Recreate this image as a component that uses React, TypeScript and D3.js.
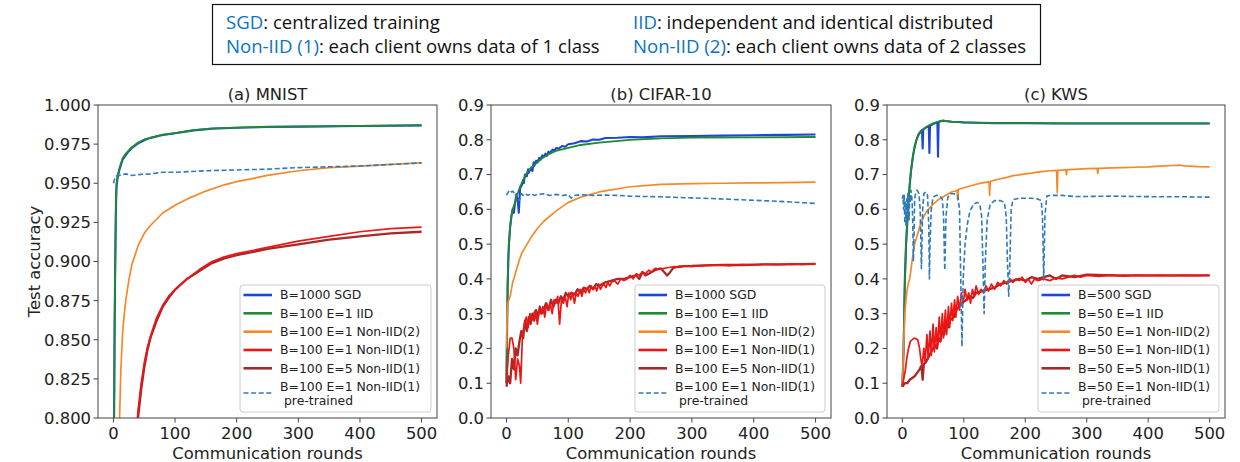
import React from "react";
import * as d3 from "d3";

type Pt = [number, number];

// ---- (a) MNIST: [round, test accuracy]
const mnistSgd: Pt[] = [[0,0.70],[1,0.79],[2,0.86],[3,0.90],[4,0.932],[5,0.948],[7,0.954],[10,0.959],[15,0.965],[20,0.968],[25,0.9705],[30,0.9725],[40,0.9755],[50,0.9775],[60,0.979],[80,0.9808],[100,0.982],[130,0.9838],[160,0.9848],[200,0.9855],[250,0.986],[300,0.9862],[400,0.9866],[500,0.987]];
const mnistIid: Pt[] = [[0,0.70],[1,0.80],[2,0.86],[3,0.90],[4,0.935],[5,0.950],[7,0.955],[10,0.960],[15,0.966],[20,0.969],[25,0.971],[30,0.973],[40,0.976],[50,0.978],[60,0.979],[80,0.981],[100,0.982],[130,0.984],[160,0.985],[200,0.9855],[250,0.986],[300,0.9862],[400,0.9866],[500,0.987]];
const mnistNon2: Pt[] = [[8,0.78],[10,0.80],[12,0.83],[15,0.855],[18,0.868],[20,0.875],[25,0.888],[30,0.898],[40,0.910],[50,0.918],[60,0.923],[70,0.927],[80,0.931],[100,0.936],[120,0.940],[150,0.945],[180,0.949],[200,0.951],[250,0.955],[300,0.958],[350,0.960],[400,0.961],[450,0.962],[500,0.963]];
const mnistNon1: Pt[] = [[38,0.795],[40,0.805],[45,0.822],[50,0.835],[55,0.845],[60,0.852],[70,0.864],[80,0.872],[90,0.878],[100,0.882],[120,0.889],[140,0.895],[160,0.900],[180,0.903],[200,0.905],[250,0.909],[300,0.913],[350,0.916],[400,0.919],[450,0.921],[500,0.922]];
const mnistNon1E5: Pt[] = [[38,0.795],[40,0.80],[45,0.818],[50,0.832],[55,0.843],[60,0.851],[70,0.862],[80,0.871],[90,0.877],[100,0.882],[120,0.889],[140,0.894],[160,0.899],[180,0.902],[200,0.904],[250,0.908],[300,0.911],[350,0.914],[400,0.916],[450,0.918],[500,0.919]];
const mnistPre: Pt[] = [[0,0.950],[3,0.954],[6,0.955],[10,0.955],[20,0.956],[30,0.955],[40,0.9555],[60,0.956],[80,0.957],[100,0.957],[150,0.958],[200,0.9585],[250,0.959],[300,0.960],[350,0.9605],[400,0.961],[450,0.962],[500,0.963]];

// ---- (b) CIFAR-10
const cifarSgd: Pt[] = [[0,0.10],[1,0.25],[2,0.38],[3,0.45],[4,0.50],[6,0.55],[8,0.58],[10,0.60],[12,0.59],[14,0.62],[16,0.64],[18,0.63],[20,0.59],[22,0.66],[25,0.67],[27,0.685],[28,0.675],[30,0.70],[33,0.695],[35,0.715],[36,0.705],[40,0.72],[42,0.71],[44,0.735],[45,0.725],[48,0.74],[50,0.735],[53,0.748],[55,0.742],[58,0.755],[60,0.75],[63,0.76],[65,0.753],[68,0.766],[70,0.762],[75,0.772],[78,0.768],[80,0.776],[85,0.775],[90,0.782],[95,0.78],[100,0.787],[110,0.79],[120,0.796],[130,0.795],[140,0.801],[150,0.80],[160,0.805],[180,0.806],[200,0.808],[220,0.807],[250,0.81],[300,0.811],[350,0.812],[400,0.813],[450,0.814],[500,0.815]];
const cifarIid: Pt[] = [[0,0.10],[1,0.28],[2,0.40],[3,0.46],[4,0.50],[6,0.55],[8,0.58],[10,0.60],[14,0.62],[18,0.645],[22,0.665],[26,0.68],[30,0.695],[35,0.71],[40,0.72],[50,0.735],[60,0.75],[70,0.76],[80,0.768],[100,0.777],[120,0.785],[150,0.792],[200,0.80],[250,0.804],[300,0.806],[400,0.807],[500,0.808]];
const cifarNon2: Pt[] = [[0,0.20],[1,0.30],[2,0.33],[4,0.34],[6,0.35],[8,0.37],[10,0.39],[12,0.40],[15,0.42],[20,0.45],[25,0.475],[30,0.49],[40,0.52],[50,0.545],[60,0.565],[80,0.595],[100,0.62],[120,0.635],[150,0.65],[200,0.665],[250,0.672],[300,0.674],[350,0.675],[400,0.676],[450,0.677],[500,0.678]];
const cifarNon1: Pt[] = [[0,0.10],[3,0.18],[6,0.23],[9,0.23],[12,0.20],[15,0.11],[18,0.17],[21,0.15],[23,0.10],[26,0.24],[29,0.27],[32,0.29],[35,0.26],[38,0.30],[41,0.28],[44,0.30],[47,0.31],[50,0.27],[53,0.31],[56,0.30],[59,0.32],[62,0.29],[65,0.33],[68,0.31],[71,0.33],[74,0.30],[77,0.34],[80,0.33],[83,0.35],[86,0.27],[89,0.34],[92,0.33],[95,0.35],[98,0.32],[101,0.36],[104,0.34],[107,0.36],[110,0.33],[113,0.36],[116,0.35],[119,0.37],[122,0.35],[125,0.37],[128,0.36],[131,0.375],[134,0.36],[137,0.38],[140,0.37],[143,0.38],[146,0.365],[149,0.385],[152,0.37],[155,0.38],[158,0.385],[161,0.375],[164,0.39],[167,0.38],[170,0.39],[175,0.395],[180,0.385],[185,0.40],[190,0.395],[195,0.40],[200,0.41],[205,0.40],[210,0.415],[215,0.41],[220,0.42],[225,0.415],[230,0.425],[235,0.42],[240,0.43],[250,0.428],[260,0.432],[270,0.435],[280,0.434],[290,0.437],[300,0.436],[320,0.438],[340,0.44],[360,0.438],[380,0.441],[400,0.44],[420,0.442],[440,0.441],[460,0.443],[480,0.442],[500,0.443]];
const cifarNon1E5: Pt[] = [[0,0.09],[3,0.12],[6,0.10],[9,0.17],[12,0.14],[15,0.20],[18,0.18],[21,0.22],[24,0.25],[27,0.23],[30,0.28],[33,0.25],[36,0.29],[39,0.27],[42,0.30],[45,0.28],[48,0.31],[51,0.29],[54,0.32],[57,0.30],[60,0.31],[64,0.33],[68,0.31],[72,0.34],[76,0.32],[80,0.34],[84,0.33],[88,0.35],[92,0.34],[96,0.36],[100,0.35],[105,0.36],[110,0.355],[115,0.37],[120,0.36],[125,0.375],[130,0.37],[135,0.38],[140,0.37],[145,0.385],[150,0.38],[160,0.39],[170,0.395],[180,0.40],[190,0.40],[200,0.405],[210,0.41],[215,0.40],[220,0.42],[225,0.41],[230,0.415],[240,0.425],[250,0.43],[260,0.41],[265,0.42],[270,0.432],[280,0.436],[300,0.437],[320,0.439],[350,0.44],[380,0.44],[400,0.441],[430,0.442],[460,0.442],[500,0.443]];
const cifarPre: Pt[] = [[0,0.64],[3,0.65],[5,0.655],[8,0.65],[11,0.652],[14,0.64],[16,0.645],[18,0.635],[20,0.625],[22,0.63],[24,0.645],[27,0.64],[30,0.645],[35,0.64],[40,0.645],[45,0.64],[50,0.642],[60,0.645],[70,0.64],[80,0.643],[90,0.64],[100,0.642],[105,0.632],[110,0.64],[120,0.642],[140,0.64],[160,0.641],[180,0.64],[200,0.638],[220,0.637],[250,0.636],[280,0.634],[300,0.633],[330,0.631],[360,0.629],[400,0.626],[430,0.624],[460,0.621],[480,0.619],[500,0.617]];

// ---- (c) KWS
const kwsSgd: Pt[] = [[0,0.09],[2,0.2],[4,0.4],[6,0.5],[8,0.56],[10,0.62],[12,0.67],[14,0.71],[17,0.75],[20,0.78],[23,0.80],[26,0.815],[30,0.825],[32,0.828],[33,0.775],[34,0.83],[38,0.835],[42,0.838],[43,0.839],[44,0.762],[45,0.84],[50,0.845],[55,0.849],[57,0.85],[58,0.751],[59,0.851],[62,0.853],[66,0.855],[70,0.854],[80,0.852],[90,0.851],[100,0.85],[120,0.849],[150,0.848],[200,0.848],[250,0.847],[300,0.847],[350,0.847],[400,0.847],[450,0.847],[500,0.847]];
const kwsIid: Pt[] = [[0,0.09],[2,0.2],[4,0.38],[6,0.5],[8,0.57],[10,0.63],[12,0.675],[14,0.71],[17,0.75],[20,0.78],[23,0.80],[26,0.812],[30,0.823],[35,0.832],[40,0.838],[45,0.843],[50,0.847],[55,0.85],[60,0.853],[65,0.855],[70,0.854],[80,0.852],[100,0.85],[150,0.848],[200,0.848],[300,0.847],[400,0.847],[500,0.847]];
const kwsNon2: Pt[] = [[0,0.10],[2,0.2],[4,0.3],[7,0.36],[10,0.39],[12,0.40],[15,0.44],[18,0.48],[20,0.50],[25,0.53],[30,0.56],[35,0.58],[40,0.595],[45,0.605],[50,0.615],[55,0.622],[60,0.63],[65,0.635],[70,0.64],[75,0.645],[80,0.65],[85,0.652],[89,0.655],[90,0.627],[91,0.657],[100,0.662],[110,0.667],[120,0.672],[130,0.676],[141,0.679],[142,0.64],[143,0.68],[150,0.684],[160,0.688],[170,0.692],[180,0.697],[190,0.699],[200,0.702],[210,0.704],[220,0.707],[230,0.709],[240,0.711],[251,0.712],[252,0.648],[253,0.712],[260,0.713],[266,0.714],[267,0.70],[268,0.714],[280,0.715],[300,0.717],[317,0.718],[318,0.703],[319,0.718],[340,0.719],[360,0.72],[380,0.721],[400,0.722],[420,0.724],[440,0.726],[450,0.727],[460,0.725],[480,0.723],[500,0.722]];
const kwsNon1: Pt[] = [[0,0.09],[3,0.12],[5,0.14],[7,0.17],[10,0.20],[13,0.22],[16,0.225],[19,0.23],[22,0.228],[25,0.225],[28,0.20],[30,0.17],[32,0.15],[35,0.20],[37,0.16],[40,0.24],[42,0.17],[45,0.25],[47,0.18],[50,0.27],[52,0.19],[55,0.26],[57,0.20],[60,0.29],[62,0.22],[65,0.30],[67,0.23],[70,0.31],[72,0.24],[75,0.32],[77,0.26],[80,0.33],[82,0.28],[85,0.34],[87,0.29],[90,0.35],[93,0.31],[96,0.36],[99,0.33],[102,0.37],[105,0.34],[108,0.36],[111,0.33],[114,0.37],[117,0.35],[120,0.38],[124,0.355],[128,0.37],[132,0.36],[136,0.38],[140,0.365],[145,0.385],[150,0.37],[155,0.39],[160,0.38],[165,0.395],[170,0.385],[175,0.40],[180,0.39],[185,0.40],[190,0.395],[195,0.405],[200,0.39],[205,0.40],[210,0.385],[215,0.40],[220,0.395],[230,0.40],[240,0.395],[250,0.403],[260,0.40],[270,0.405],[280,0.41],[290,0.405],[300,0.41],[320,0.407],[340,0.41],[360,0.408],[380,0.41],[400,0.409],[420,0.41],[440,0.409],[460,0.41],[480,0.409],[500,0.41]];
const kwsNon1E5: Pt[] = [[0,0.09],[4,0.10],[8,0.10],[12,0.11],[16,0.115],[20,0.12],[24,0.13],[28,0.14],[31,0.15],[33,0.11],[35,0.155],[38,0.16],[41,0.17],[44,0.18],[47,0.19],[50,0.20],[53,0.21],[56,0.20],[59,0.23],[62,0.22],[65,0.25],[68,0.24],[71,0.27],[74,0.26],[77,0.28],[80,0.285],[84,0.29],[88,0.31],[92,0.32],[96,0.33],[100,0.335],[105,0.34],[110,0.35],[115,0.345],[120,0.36],[130,0.365],[140,0.37],[150,0.375],[160,0.385],[170,0.39],[180,0.395],[190,0.40],[200,0.395],[210,0.405],[220,0.40],[230,0.405],[240,0.41],[250,0.40],[260,0.41],[280,0.405],[300,0.412],[350,0.41],[400,0.41],[450,0.41],[500,0.41]];
const kwsPre: Pt[] = [[0,0.63],[1,0.64],[2,0.60],[3,0.64],[4,0.56],[5,0.62],[6,0.55],[7,0.63],[8,0.58],[9,0.65],[10,0.60],[11,0.57],[12,0.64],[13,0.62],[14,0.655],[16,0.62],[17,0.55],[18,0.45],[19,0.53],[20,0.63],[22,0.65],[24,0.655],[27,0.645],[29,0.60],[31,0.43],[33,0.60],[35,0.645],[38,0.65],[41,0.64],[43,0.55],[44,0.40],[45,0.50],[47,0.60],[50,0.635],[55,0.64],[60,0.64],[65,0.63],[67,0.58],[69,0.425],[71,0.58],[74,0.635],[78,0.645],[84,0.645],[90,0.64],[93,0.60],[95,0.40],[97,0.205],[99,0.40],[102,0.50],[106,0.56],[110,0.595],[116,0.615],[122,0.62],[126,0.615],[129,0.58],[131,0.45],[133,0.30],[135,0.45],[138,0.57],[143,0.615],[150,0.625],[160,0.625],[166,0.62],[169,0.58],[171,0.45],[173,0.35],[175,0.45],[177,0.60],[180,0.628],[190,0.632],[200,0.632],[210,0.632],[220,0.63],[226,0.625],[228,0.58],[230,0.397],[232,0.58],[235,0.638],[240,0.64],[260,0.64],[280,0.637],[300,0.637],[340,0.638],[380,0.637],[420,0.636],[460,0.636],[500,0.635]];

const mnistLabels = ["B=1000 SGD", "B=100 E=1 IID", "B=100 E=1 Non-IID(2)", "B=100 E=1 Non-IID(1)", "B=100 E=5 Non-IID(1)", "B=100 E=1 Non-IID(1)"];
const cifarLabels = mnistLabels;
const kwsLabels = ["B=500 SGD", "B=50 E=1 IID", "B=50 E=1 Non-IID(2)", "B=50 E=1 Non-IID(1)", "B=50 E=5 Non-IID(1)", "B=50 E=1 Non-IID(1)"];

const mnistTicks = [0.8, 0.825, 0.85, 0.875, 0.9, 0.925, 0.95, 0.975, 1.0];
const accTicks = [0, 0.1, 0.2, 0.3, 0.4, 0.5, 0.6, 0.7, 0.8, 0.9];
const roundTicks = [0, 100, 200, 300, 400, 500];

// styles per series: SGD, IID, Non-IID(2), Non-IID(1) E=1, Non-IID(1) E=5, pre-trained
const styles = [
  { color: "#1c46d6", width: 2.1, dash: null },
  { color: "#1f8a2e", width: 1.8, dash: null },
  { color: "#f5892a", width: 1.7, dash: null },
  { color: "#ee1515", width: 1.7, dash: null },
  { color: "#a52a2a", width: 2.3, dash: null },
  { color: "#2f7ab8", width: 1.6, dash: "5,2.6" },
];
const drawOrder = [0, 1, 2, 4, 3, 5];

const TOP = 105;
const BOTTOM = 418;
const TICK_FONT = "DejaVu Sans, sans-serif";

type PanelProps = {
  id: string;
  title: string;
  left: number;
  right: number;
  yDomain: [number, number];
  yTicks: number[];
  fmt: (v: number) => string;
  series: Pt[][];
  labels: string[];
  legendW: number;
  yLabel?: boolean;
};

function Panel({ id, title, left, right, yDomain, yTicks, fmt, series, labels, legendW, yLabel }: PanelProps) {
  const x = d3.scaleLinear().domain([-25, 525]).range([left, right]);
  const y = d3.scaleLinear().domain(yDomain).range([BOTTOM, TOP]);
  const line = d3.line<Pt>().x((d) => x(d[0])).y((d) => y(d[1]));
  const cx = (left + right) / 2;

  const lgLeft = right - 6 - legendW;
  const lgTop = 285;
  const rows = [295, 313.3, 331.7, 350, 368.3];

  return (
    <g>
      <defs>
        <clipPath id={`clip-${id}`}>
          <rect x={left} y={TOP} width={right - left} height={BOTTOM - TOP} />
        </clipPath>
      </defs>
      <g clipPath={`url(#clip-${id})`}>
        {drawOrder.map((i) => (
          <path
            key={i}
            d={line(series[i]) || ""}
            fill="none"
            stroke={styles[i].color}
            strokeWidth={styles[i].width}
            strokeDasharray={styles[i].dash || undefined}
            strokeLinejoin="round"
          />
        ))}
      </g>
      <rect x={left} y={TOP} width={right - left} height={BOTTOM - TOP} fill="none" stroke="#555" strokeWidth={1.1} />
      {yTicks.map((t) => (
        <g key={t}>
          <line x1={left - 4.5} x2={left} y1={y(t)} y2={y(t)} stroke="#444" strokeWidth={1} />
          <text x={left - 7} y={y(t)} dy="0.36em" textAnchor="end" fontSize={16.4} fontFamily={TICK_FONT} fill="#222">
            {fmt(t)}
          </text>
        </g>
      ))}
      {roundTicks.map((t) => (
        <g key={t}>
          <line x1={x(t)} x2={x(t)} y1={BOTTOM} y2={BOTTOM + 4.5} stroke="#444" strokeWidth={1} />
          <text x={x(t)} y={439} textAnchor="middle" fontSize={16.4} fontFamily={TICK_FONT} fill="#222">
            {t}
          </text>
        </g>
      ))}
      <text x={cx} y={459} textAnchor="middle" fontSize={16.4} fontFamily={TICK_FONT} fill="#222">
        Communication rounds
      </text>
      <text x={cx} y={100} textAnchor="middle" fontSize={16.4} fontFamily={TICK_FONT} fill="#222">
        {title}
      </text>
      {yLabel && (
        <text transform={`translate(40,${(TOP + BOTTOM) / 2}) rotate(-90)`} textAnchor="middle" fontSize={16.4} fontFamily={TICK_FONT} fill="#222">
          Test accuracy
        </text>
      )}
      <rect x={lgLeft} y={lgTop} width={legendW} height={127} rx={3} fill="white" fillOpacity={0.85} stroke="#cccccc" strokeWidth={1} />
      {labels.map((lab, i) => {
        const cy = i < 5 ? rows[i] : 393;
        return (
          <g key={i}>
            <line
              x1={lgLeft + 3.5}
              x2={lgLeft + 32}
              y1={cy}
              y2={cy}
              stroke={styles[i].color}
              strokeWidth={i === 5 ? 1.6 : 2.6}
              strokeDasharray={styles[i].dash || undefined}
            />
            {i < 5 ? (
              <text x={lgLeft + 40} y={cy} dy="0.36em" fontSize={12.4} fontFamily={TICK_FONT} fill="#222">
                {lab}
              </text>
            ) : (
              <text fontSize={12.4} fontFamily={TICK_FONT} fill="#222">
                <tspan x={lgLeft + 40} y={386.7} dy="0.36em">{lab}</tspan>
                <tspan x={lgLeft + 44} y={400.5} dy="0.36em">pre-trained</tspan>
              </text>
            )}
          </g>
        );
      })}
    </g>
  );
}

export default function App() {
  const blue = "#0b72c4";
  const topFont = "Open Sans, sans-serif";
  const fs = 18.6;
  return (
    <svg width={1240} height={462} style={{ position: "absolute", left: 0, top: 0, background: "white" }}>
      <rect x={212.5} y={4.5} width={828} height={60} fill="white" stroke="#111" strokeWidth={1.2} />
      <text x={226} y={28.5} fontSize={fs} fontFamily={topFont} fill="#111">
        <tspan fill={blue}>SGD</tspan>: centralized training
      </text>
      <text x={633} y={28.5} fontSize={fs} fontFamily={topFont} fill="#111">
        <tspan fill={blue}>IID</tspan>: independent and identical distributed
      </text>
      <text x={226} y={53} fontSize={fs} fontFamily={topFont} fill="#111">
        <tspan fill={blue}>Non-IID (1)</tspan>: each client owns data of 1 class
      </text>
      <text x={633} y={53} fontSize={fs} fontFamily={topFont} fill="#111">
        <tspan fill={blue}>Non-IID (2)</tspan>: each client owns data of 2 classes
      </text>

      <Panel
        id="a"
        title="(a) MNIST"
        left={98}
        right={437}
        yDomain={[0.8, 1.0]}
        yTicks={mnistTicks}
        fmt={d3.format(".3f")}
        series={[mnistSgd, mnistIid, mnistNon2, mnistNon1, mnistNon1E5, mnistPre]}
        labels={mnistLabels}
        legendW={191}
        yLabel
      />
      <Panel
        id="b"
        title="(b) CIFAR-10"
        left={491}
        right={831}
        yDomain={[0, 0.9]}
        yTicks={accTicks}
        fmt={d3.format(".1f")}
        series={[cifarSgd, cifarIid, cifarNon2, cifarNon1, cifarNon1E5, cifarPre]}
        labels={cifarLabels}
        legendW={190}
      />
      <Panel
        id="c"
        title="(c) KWS"
        left={887}
        right={1225}
        yDomain={[0, 0.9]}
        yTicks={accTicks}
        fmt={d3.format(".1f")}
        series={[kwsSgd, kwsIid, kwsNon2, kwsNon1, kwsNon1E5, kwsPre]}
        labels={kwsLabels}
        legendW={181}
      />
    </svg>
  );
}
